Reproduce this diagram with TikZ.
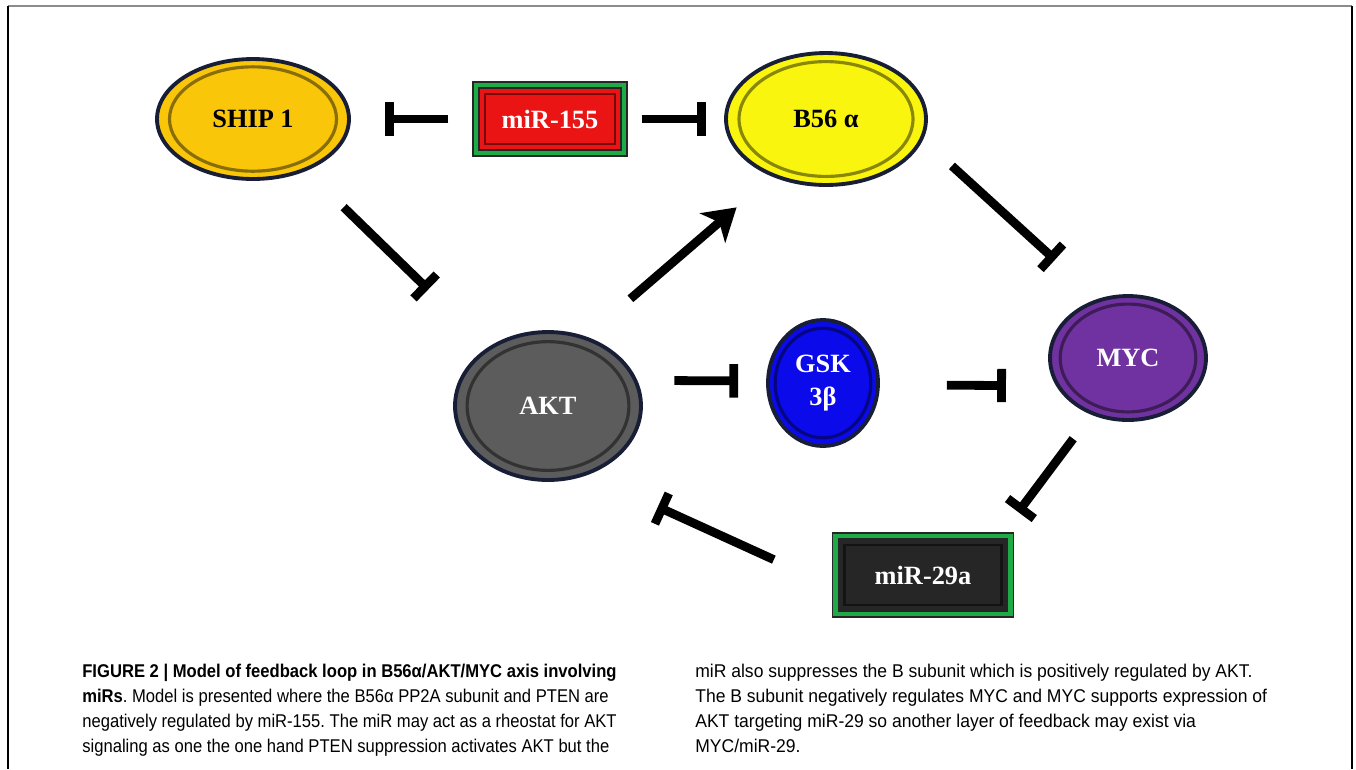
\documentclass[tikz,border=0pt]{standalone}
\usepackage{fontspec}
\setmainfont{Liberation Serif}
\newfontfamily\legende[FakeStretch=0.9]{Liberation Sans}
\newfontfamily\legendeR[FakeStretch=0.95]{Liberation Sans}
\usetikzlibrary{shapes.geometric,arrows.meta,calc}

\definecolor{shipgelb}{RGB}{250,198,10}
\definecolor{bgelb}{RGB}{250,245,15}
\definecolor{aktgrau}{RGB}{92,92,92}
\definecolor{gskblau}{RGB}{10,10,235}
\definecolor{mycviolett}{RGB}{112,50,160}
\definecolor{mirrot}{RGB}{235,20,20}
\definecolor{mirgruen}{RGB}{30,170,70}
\definecolor{mirschwarz}{RGB}{38,38,38}
\definecolor{rand}{RGB}{25,30,55}

\tikzset{
  molekuel/.style={ellipse, draw=rand, line width=2.2pt, fill=#1, inner sep=0pt,
    font=\bfseries\fontsize{15}{19}\selectfont, align=center,
    path picture={\draw[#1!55!black, line width=1.8pt]
      let \p1=(path picture bounding box.north east), \p2=(path picture bounding box.center)
      in (\p2) ellipse [x radius={0.87*(\x1-\x2)}, y radius={0.87*(\y1-\y2)}];}},
  mirna/.style={rectangle, draw=black!85, line width=0.8pt, double=mirgruen, double distance=2.5pt,
    fill=#1, inner sep=0pt, text=white, font=\bfseries\fontsize{15}{19}\selectfont,
    path picture={\draw[#1!50!black, line width=1.4pt]
      ([shift={(5pt,5pt)}]path picture bounding box.south west) rectangle
      ([shift={(-5pt,-5pt)}]path picture bounding box.north east);}},
  hemmt/.style={line width=5pt, -{Bar[width=19pt]}},
  aktiviert/.style={line width=5pt, -{Stealth[length=18pt, width=22pt, inset=5pt]}}
}

\begin{document}
\begin{tikzpicture}[x=0.02cm, y=-0.02cm]
    \useasboundingbox (0,0) rectangle (1356,769);

    % Rahmen (unten offen)
    \draw[black!45, line width=0.8pt] (8,6) -- (1352,6);
    \draw[line width=1pt] (8,6) -- (8,769);
    \draw[line width=1pt] (1352,6) -- (1352,769);

    % Obere Reihe: SHIP 1, miR-155, B56 alpha
    \node[molekuel=shipgelb, minimum width=3.84cm, minimum height=2.4cm] (ship) at (253,119) {SHIP 1};
    \node[mirna=mirrot, minimum width=2.96cm, minimum height=1.36cm] (mir155) at (550,119) {miR-155};
    \node[molekuel=bgelb, minimum width=4cm, minimum height=2.64cm] (b56) at (826,119) {B56 α};

    % Mittlere Reihe: AKT, GSK 3beta, MYC
    \node[molekuel=aktgrau, text=white, minimum width=3.72cm, minimum height=2.96cm] (akt) at (548,406) {AKT};
    \node[molekuel=gskblau, text=white, minimum width=2.2cm, minimum height=2.52cm] (gsk) at (823,383) {GSK\\3β};
    \node[molekuel=mycviolett, text=white, minimum width=3.12cm, minimum height=2.48cm] (myc) at (1128,358) {MYC};

    % Unten: miR-29a
    \node[mirna=mirschwarz, minimum width=3.5cm, minimum height=1.56cm] (mir29) at (923,575) {miR-29a};

    % Hemmungen und Aktivierung
    \draw[hemmt, shorten <=0.54cm, shorten >=0.68cm] (mir155.west) -- (ship.east);
    \draw[hemmt, shorten <=0.34cm, shorten >=0.36cm] (mir155.east) -- (b56.west);
    \draw[hemmt, shorten <=1.04cm, shorten >=1.66cm] (ship) -- (akt);
    \draw[aktiviert, shorten <=1.16cm, shorten >=0.94cm] (akt.61) -- (b56.227);
    \draw[hemmt, shorten <=0.78cm, shorten >=1.16cm] (b56.-12) -- (myc.117);
    \draw[hemmt, shorten <=0.74cm, shorten >=0.56cm] (akt.16) -- (gsk.178);
    \draw[hemmt, shorten <=1.34cm, shorten >=1cm] (gsk.-2) -- (myc.201);
    \draw[hemmt, shorten <=0.6cm, shorten >=0.58cm] (myc.237) -- (mir29.27);
    \draw[hemmt, shorten <=1.34cm, shorten >=1.54cm] (mir29.188) -- (akt.-60);

    % Bildunterschrift, zweispaltig
    \node[anchor=north west, inner sep=0pt, align=left, font=\legende\frenchspacing\fontsize{10.5}{14.2}\selectfont] (textL) at (82,664)
        {\textbf{FIGURE 2 | Model of feedback loop in B56α/AKT/MYC axis involving}\\
        \textbf{miRs}. Model is presented where the B56α PP2A subunit and PTEN are\\
        negatively regulated by miR-155. The miR may act as a rheostat for AKT\\
        signaling as one the one hand PTEN suppression activates AKT but the};
    \node[anchor=north west, inner sep=0pt, align=left, font=\legendeR\frenchspacing\fontsize{10.5}{14.2}\selectfont] (textR) at (695,664)
        {miR also suppresses the B subunit which is positively regulated by AKT.\\
        The B subunit negatively regulates MYC and MYC supports expression of\\
        AKT targeting miR-29 so another layer of feedback may exist via\\
        MYC/miR-29.};
\end{tikzpicture}
\end{document}
